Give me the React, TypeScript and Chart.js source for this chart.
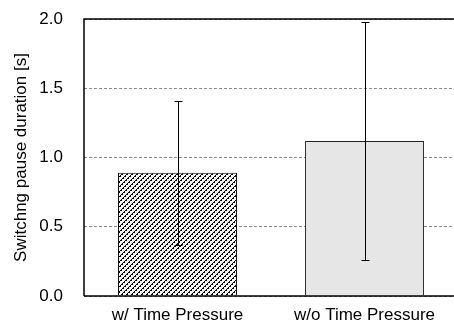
import React, { useEffect, useRef } from "react";
import { Chart, registerables } from "chart.js";

Chart.register(...registerables);

const categories = ["w/ Time Pressure", "w/o Time Pressure"];
const meanValues = [0.89, 1.12];
const errorLow = [0.37, 0.26];
const errorHigh = [1.41, 1.98];
const yTicks = [0, 0.5, 1.0, 1.5, 2.0];

function makePattern(): CanvasPattern | string {
  const c = document.createElement("canvas");
  c.width = 10;
  c.height = 10;
  const ctx = c.getContext("2d");
  if (!ctx) return "#888";
  ctx.fillStyle = "#f4f4f4";
  ctx.fillRect(0, 0, 10, 10);
  ctx.fillStyle = "#000000";
  for (let y = 0; y < 10; y++) {
    for (let x = 0; x < 10; x++) {
      const d = (x + y) % 5;
      if (d === 0 || (d === 1 && y % 2 === 0)) ctx.fillRect(x, y, 1, 1);
    }
  }
  const p = ctx.createPattern(c, "repeat");
  return p || "#888";
}

const errorBarPlugin = {
  id: "errorBars",
  afterDatasetsDraw(chart: any) {
    const ctx = chart.ctx;
    const meta = chart.getDatasetMeta(0);
    const yScale = chart.scales.y;
    ctx.save();
    ctx.strokeStyle = "#000";
    ctx.lineWidth = 1;
    meta.data.forEach((bar: any, i: number) => {
      const x = Math.round(bar.x) + 0.5;
      const yl = Math.round(yScale.getPixelForValue(errorLow[i])) + 0.5;
      const yh = Math.round(yScale.getPixelForValue(errorHigh[i])) + 0.5;
      ctx.beginPath();
      ctx.moveTo(x, yl);
      ctx.lineTo(x, yh);
      ctx.moveTo(x - 4, yl);
      ctx.lineTo(x + 4, yl);
      ctx.moveTo(x - 4, yh);
      ctx.lineTo(x + 4, yh);
      ctx.stroke();
    });
    ctx.restore();
  },
};

const framePlugin = {
  id: "frame",
  afterDraw(chart: any) {
    const { ctx, chartArea } = chart;
    ctx.save();
    ctx.strokeStyle = "#000";
    ctx.lineWidth = 1.5;
    ctx.beginPath();
    ctx.moveTo(chartArea.left, chartArea.bottom);
    ctx.lineTo(chartArea.left, chartArea.top);
    ctx.lineTo(chartArea.right + 10, chartArea.top);
    ctx.moveTo(chartArea.left, chartArea.bottom);
    ctx.lineTo(chartArea.right + 10, chartArea.bottom);
    ctx.stroke();
    ctx.restore();
  },
};

export default function App() {
  const ref = useRef<HTMLCanvasElement>(null);
  useEffect(() => {
    document.body.style.margin = "0";
    document.body.style.overflow = "hidden";
    if (!ref.current) return;
    const font = "'Liberation Sans', Arial, sans-serif";
    const chart = new Chart(ref.current, {
      type: "bar",
      data: {
        labels: categories,
        datasets: [
          {
            data: meanValues,
            backgroundColor: [makePattern(), "#e6e6e6"] as any,
            borderColor: ["#000", "#222"],
            borderWidth: 1,
            barPercentage: 1,
            categoryPercentage: 0.636,
          },
        ],
      },
      options: {
        animation: false,
        responsive: false,
        layout: { padding: { top: 19, right: 2, left: 0, bottom: 0 } },
        plugins: { legend: { display: false }, tooltip: { enabled: false } },
        scales: {
          x: {
            grid: { display: false, drawTicks: false },
            border: { display: false },
            ticks: { color: "#000", font: { family: font, size: 17 }, padding: 9, maxRotation: 0 },
            afterFit(s: any) {
              s.height = 35;
            },
          },
          y: {
            min: 0,
            max: 2,
            afterBuildTicks(s: any) {
              s.ticks = yTicks.map((v) => ({ value: v }));
            },
            ticks: {
              color: "#000",
              font: { family: font, size: 17 },
              padding: 0,
              callback: (v: any) => Number(v).toFixed(1),
            },
            grid: {
              drawTicks: true,
              tickLength: 21,
              tickColor: "rgba(0,0,0,0)",
              color: "#8a8a8a",
              lineWidth: 1,
            },
            border: { display: false, dash: [3, 2] },
            title: {
              display: true,
              text: "Switchng pause duration [s]",
              color: "#000",
              font: { family: font, size: 17 },
              padding: { top: 11, bottom: 0 },
            },
            afterFit(s: any) {
              s.width = 84;
            },
          },
        },
      },
      plugins: [errorBarPlugin, framePlugin],
    } as any);
    return () => chart.destroy();
  }, []);
  return (
    <div style={{ width: 454, height: 331, overflow: "hidden" }}>
      <canvas ref={ref} width={460} height={331} style={{ display: "block" }} />
    </div>
  );
}
